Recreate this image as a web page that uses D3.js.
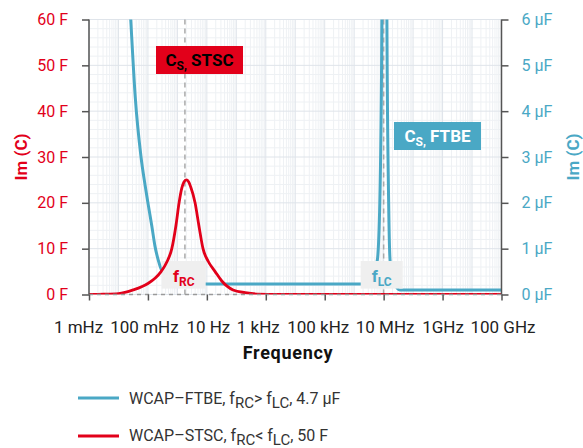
<!DOCTYPE html>
<html><head><meta charset="utf-8">
<script src="https://cdn.jsdelivr.net/npm/d3@7"></script>
<style>
html,body{margin:0;padding:0;background:#fff;}
svg{display:block;font-family:Roboto,"Noto Sans",sans-serif;}
</style></head>
<body><svg id="chart" width="583" height="448"></svg>
<script>
// ---- data ----
const freqTicks = [1e-3, 1e-1, 1e1, 1e3, 1e5, 1e7, 1e9, 1e11];
const freqTickLabels = ["1 mHz", "100 mHz", "10 Hz", "1 kHz", "100 kHz", "10 MHz", "1GHz", "100 GHz"];
const leftTicks = [0, 10, 20, 30, 40, 50, 60];
const leftTickLabels = ["0 F", "10 F", "20 F", "30 F", "40 F", "50 F", "60 F"];
const rightTicks = [0, 1, 2, 3, 4, 5, 6];
const rightTickLabels = ["0 μF", "1 μF", "2 μF", "3 μF", "4 μF", "5 μF", "6 μF"];

// WCAP-STSC (left axis, F)
const stscFreq = [0.001, 0.00316, 0.01, 0.0316, 0.1, 0.178, 0.279, 0.447, 0.646, 0.891, 1.14, 1.41, 1.66, 2.0, 2.4, 2.82, 3.98, 5.37, 7.41, 11.2, 19.1, 31.6, 77.6, 200, 501, 3160, 1e5, 1e11];
const stscImC = [0, 0.05, 0.2, 1.0, 2.4, 3.6, 5, 7.2, 10, 15, 20, 23.2, 24.5, 25, 24.6, 23.5, 20, 15, 10, 7.2, 5, 3, 1, 0.4, 0.1, 0.02, 0, 0];

// WCAP-FTBE (right axis, μF)
const ftbeFreq = [0.0178, 0.0261, 0.0372, 0.0583, 0.0794, 0.103, 0.135, 0.174, 0.224, 0.282, 0.398, 0.631, 1, 3.16, 8.7, 1000, 1.7e6, 3.16e6, 6.03e6, 7.41e6, 8.71e6, 1e7, 1.29e7, 1.48e7, 1.66e7, 2.51e7, 3.55e7, 1e11];
const ftbeImC = [8, 6, 4.3, 3.0, 2.4, 1.95, 1.5, 1.05, 0.75, 0.55, 0.42, 0.33, 0.28, 0.24, 0.23, 0.23, 0.23, 0.3, 0.73, 2.0, 6, 40, 6, 2, 0.73, 0.2, 0.1, 0.1];

const fRC = 1.8, fLC = 1e7;

// ---- style ----
const RED = "#e2001a", BLUE = "#4aa8c5";
const tickLabelShift = [-11, -4, 1, -8, -7, 1, 0, 1];
const svg = d3.select("#chart");
const L = 89, R = 501.5, T = 19.5, B = 294.5;

const x = d3.scaleLog().domain([1e-3, 1e11]).range([L, R]);
const yL = d3.scaleLinear().domain([0, 60]).range([B, T]);
const yR = d3.scaleLinear().domain([0, 6]).range([B, T]);

svg.append("defs").append("clipPath").attr("id", "clip")
  .append("rect").attr("x", L).attr("y", T).attr("width", R - L).attr("height", B - T);

// grid
const g = svg.append("g");
const minorX = [];
for (let e = -3; e < 11; e++) for (let m = 2; m <= 9; m++) minorX.push(m * Math.pow(10, e));
const majorX = d3.range(-3, 12).map(e => Math.pow(10, e));
g.selectAll(".mx").data(minorX).join("line")
  .attr("x1", d => x(d)).attr("x2", d => x(d)).attr("y1", T).attr("y2", B)
  .attr("stroke", "#eef1f4").attr("stroke-width", 1);
const minorY = d3.range(0, 61, 2).filter(v => v % 10 !== 0);
g.selectAll(".my").data(minorY).join("line")
  .attr("x1", L).attr("x2", R).attr("y1", d => yL(d)).attr("y2", d => yL(d))
  .attr("stroke", "#eef1f4").attr("stroke-width", 1);
g.selectAll(".Mx").data(majorX).join("line")
  .attr("x1", d => x(d)).attr("x2", d => x(d)).attr("y1", T).attr("y2", B)
  .attr("stroke", "#dfe4ea").attr("stroke-width", 1);
g.selectAll(".My").data(leftTicks).join("line")
  .attr("x1", L).attr("x2", R).attr("y1", d => yL(d)).attr("y2", d => yL(d))
  .attr("stroke", "#dfe4ea").attr("stroke-width", 1);

// dashed verticals
svg.selectAll(".vd").data([fRC, fLC]).join("line")
  .attr("x1", d => x(d)).attr("x2", d => x(d)).attr("y1", T).attr("y2", B)
  .attr("stroke", "#aaaaaa").attr("stroke-width", 1.5).attr("stroke-dasharray", "5,4");

// blue line
const blueLine = d3.line().x(d => x(d[0])).y(d => yR(d[1])).curve(d3.curveMonotoneX);
svg.append("path").datum(d3.zip(ftbeFreq, ftbeImC))
  .attr("clip-path", "url(#clip)")
  .attr("d", blueLine).attr("fill", "none").attr("stroke", BLUE).attr("stroke-width", 3);

// f boxes
function fBox(cx, fill, sub, col, w) {
  const bg = svg.append("g");
  bg.append("rect").attr("x", cx - w / 2).attr("y", 261).attr("width", w).attr("height", 27.6).attr("fill", fill);
  const t = bg.append("text").attr("x", cx).attr("y", 282).attr("text-anchor", "middle")
    .attr("fill", col).attr("font-weight", "bold").attr("font-size", 17);
  t.append("tspan").text("f");
  t.append("tspan").attr("font-size", 12).attr("dy", 4).text(sub);
}
fBox(183.7, "#efefef", "RC", RED, 44);
fBox(381.7, "#efefef", "LC", BLUE, 42);

// red line
const redLine = d3.line().x(d => x(d[0])).y(d => yL(d[1])).curve(d3.curveMonotoneX);
svg.append("path").datum(d3.zip(stscFreq, stscImC))
  .attr("clip-path", "url(#clip)")
  .attr("d", redLine).attr("fill", "none").attr("stroke", RED).attr("stroke-width", 2.8);

// baseline dashed
svg.append("line").attr("x1", L).attr("x2", R).attr("y1", B).attr("y2", B)
  .attr("stroke", "#9a9a9a").attr("stroke-width", 1.5).attr("stroke-dasharray", "4,4");

// axes
const ax = svg.append("g").attr("transform", `translate(0,${B})`)
  .call(d3.axisBottom(x).tickValues(freqTicks).tickFormat((d, i) => freqTickLabels[i]).tickSize(6).tickPadding(20));
ax.select(".domain").remove();
ax.selectAll("line").attr("stroke", "#555").attr("stroke-width", 1.5);
ax.selectAll("text").attr("font-size", 17).attr("fill", "#222").attr("font-family", "Roboto")
  .attr("dx", (d, i) => tickLabelShift[i]);

const al = svg.append("g").attr("transform", `translate(${L},0)`)
  .call(d3.axisLeft(yL).tickValues(leftTicks).tickFormat((d, i) => leftTickLabels[i]).tickSize(7).tickPadding(14));
al.select(".domain").attr("stroke", "#555").attr("stroke-width", 1.5).attr("d", `M0,${T}V${B}`);
al.selectAll("line").attr("stroke", "#555").attr("stroke-width", 1.5);
al.selectAll("text").attr("font-size", 16).attr("fill", RED).attr("font-family", "Roboto");

const ar = svg.append("g").attr("transform", `translate(${R},0)`)
  .call(d3.axisRight(yR).tickValues(rightTicks).tickFormat((d, i) => rightTickLabels[i]).tickSize(7).tickPadding(13));
ar.select(".domain").attr("stroke", "#555").attr("stroke-width", 1.5).attr("d", `M0,${T}V${B}`);
ar.selectAll("line").attr("stroke", "#555").attr("stroke-width", 1.5);
ar.selectAll("text").attr("font-size", 16).attr("fill", BLUE).attr("font-family", "Roboto");

// axis titles
svg.append("text").attr("transform", `translate(27,${(T + B) / 2}) rotate(-90)`)
  .attr("text-anchor", "middle").attr("font-weight", "bold").attr("font-size", 17).attr("fill", RED).text("Im (C)");
svg.append("text").attr("transform", `translate(579,${(T + B) / 2}) rotate(-90)`)
  .attr("text-anchor", "middle").attr("font-weight", "bold").attr("font-size", 17).attr("fill", BLUE).text("Im (C)");
svg.append("text").attr("x", 288).attr("y", 359).attr("text-anchor", "middle")
  .attr("font-weight", "bold").attr("font-size", 18).attr("letter-spacing", 0.7).attr("fill", "#111").text("Frequency");

// series labels
function sLabel(x0, y0, fill, col, name) {
  const gg = svg.append("g");
  gg.append("rect").attr("x", x0).attr("y", y0).attr("width", 87).attr("height", 28).attr("fill", fill);
  const t = gg.append("text").attr("x", x0 + 43.5).attr("y", y0 + 20).attr("text-anchor", "middle")
    .attr("font-weight", "bold").attr("font-size", 17).attr("fill", col);
  t.append("tspan").text("C");
  t.append("tspan").attr("font-size", 12).attr("dy", 4).text("S,");
  t.append("tspan").attr("dy", -4).text(" " + name);
}
sLabel(156, 46, RED, "#000", "STSC");
sLabel(394, 122, BLUE, "#fff", "FTBE");

// legend
function legendItem(y, ty, col, name, rel, val) {
  svg.append("line").attr("x1", 78).attr("x2", 119).attr("y1", y).attr("y2", y)
    .attr("stroke", col).attr("stroke-width", 3);
  const t = svg.append("text").attr("x", 129).attr("y", ty).attr("font-size", 16).attr("fill", "#333");
  t.append("tspan").text(name + ", f");
  t.append("tspan").attr("font-size", 15).attr("dy", 4).text("RC");
  t.append("tspan").attr("dy", -4).text(rel + " f");
  t.append("tspan").attr("font-size", 15).attr("dy", 4).text("LC");
  t.append("tspan").attr("dy", -4).text(", " + val);
}
legendItem(398, 404, BLUE, "WCAP–FTBE", ">", "4.7 μF");
legendItem(436, 441, RED, "WCAP–STSC", "<", "50 F");
</script></body></html>
